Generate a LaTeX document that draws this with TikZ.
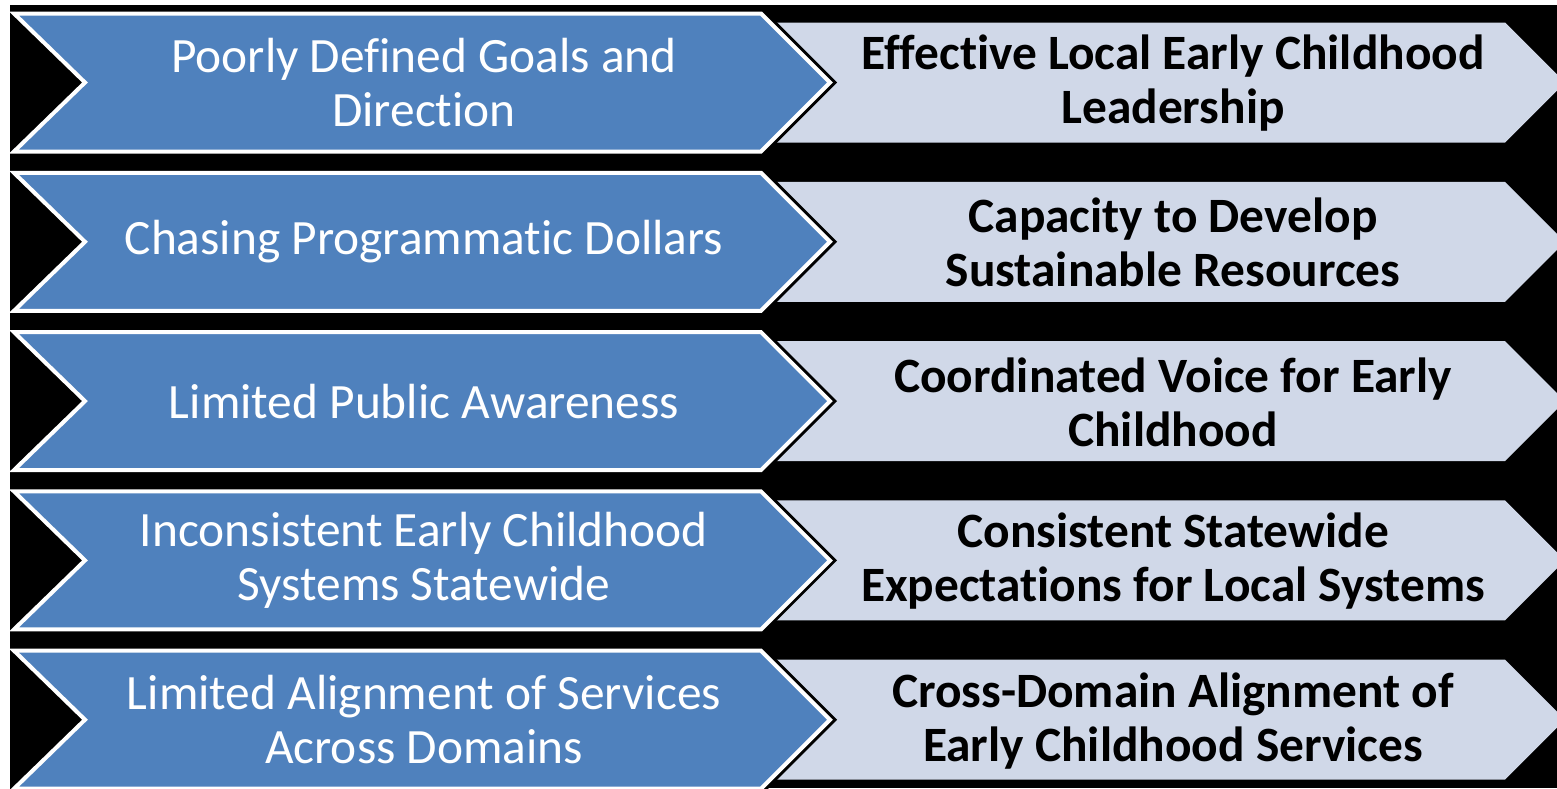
\documentclass[tikz,border=0pt]{standalone}
\usepackage{fontspec}
\setmainfont[Ligatures=NoCommon]{Carlito}
\definecolor{chevblue}{RGB}{79,129,189}
\definecolor{chevgray}{RGB}{208,216,232}
\tikzset{
	probshadow/.style={draw=black, line width=5pt, line join=miter},
	probarrow/.style={fill=chevblue, draw=white, line width=2pt, line join=miter},
	goalarrow/.style={fill=chevgray},
	probtext/.style={text=white, align=center, font=\fontsize{24.7}{27}\selectfont},
	goaltext/.style={text=black, align=center, font=\fontsize{24.7}{27}\selectfont\bfseries}
}
\begin{document}
\begin{tikzpicture}[x=0.5pt, y=-0.5pt]
	\def\h{69} \def\g{60} % nửa chiều cao
	\def\xl{14} \def\xs{761} \def\xt{830}
	\useasboundingbox (0,0) rectangle (1557,788);
	\clip (10,5) rectangle (1557,788);
	\fill[black] (10,5) rectangle (1557,788);
	\foreach \i/\probtxt/\goaltxt in {
		0/{Poorly Defined Goals and\\Direction}/{Effective Local Early Childhood\\Leadership},
		1/{Chasing Programmatic Dollars}/{Capacity to Develop\\Sustainable Resources},
		2/{Limited Public Awareness}/{Coordinated Voice for Early\\Childhood},
		3/{Inconsistent Early Childhood\\Systems Statewide}/{Consistent Statewide\\Expectations for Local Systems},
		4/{Limited Alignment of Services\\Across Domains}/{Cross-Domain Alignment of\\Early Childhood Services}}{
		\pgfmathsetmacro{\yc}{82.5+159.3*\i}
		\fill[goalarrow] (770,\yc-\g)--(1505,\yc-\g)--(1565,\yc)--(1505,\yc+\g)--(770,\yc+\g)--cycle;
		\draw[probshadow] (\xl,\yc-\h)--(\xs,\yc-\h)--(\xt,\yc)--(\xs,\yc+\h)--(\xl,\yc+\h)--(\xl+\h+2,\yc)--cycle;
		\draw[probarrow] (\xl,\yc-\h)--(\xs,\yc-\h)--(\xt,\yc)--(\xs,\yc+\h)--(\xl,\yc+\h)--(\xl+\h+2,\yc)--cycle;
		\node[probtext] (prob\i) at (424,\yc) {\probtxt};
		\node[goaltext] (goal\i) at (1173,\yc+1) {\goaltxt};
	}
\end{tikzpicture}
\end{document}
